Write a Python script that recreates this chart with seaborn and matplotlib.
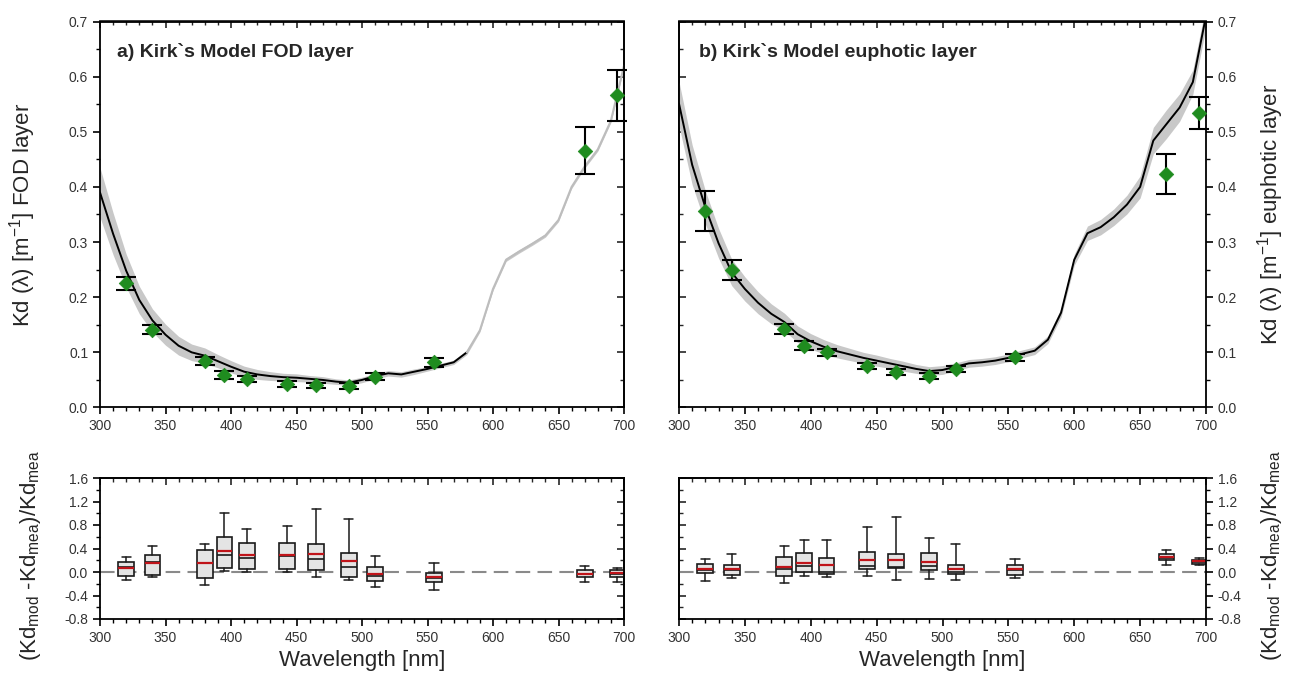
import numpy as np
import pandas as pd
import matplotlib
matplotlib.use("Agg")
import matplotlib.pyplot as plt
from matplotlib.ticker import MultipleLocator, FormatStrFormatter
import seaborn as sns

sns.set_style("ticks")
plt.rcParams['font.family'] = ['Liberation Sans', 'DejaVu Sans']
plt.rcParams['mathtext.default'] = 'regular'
plt.rcParams['axes.unicode_minus'] = False

# ---------------- data ----------------
wl_model = [300, 310, 320, 330, 340, 350, 360, 370, 380, 390, 400, 410, 420, 430, 440,
            450, 460, 470, 480, 490, 500, 510, 520, 530, 540, 550, 560, 570, 580, 590,
            600, 610, 620, 630, 640, 650, 660, 670, 680, 690, 700]
kd_a_model = [0.390, 0.315, 0.248, 0.195, 0.158, 0.132, 0.112, 0.100, 0.094, 0.084, 0.074,
              0.065, 0.060, 0.057, 0.055, 0.054, 0.052, 0.050, 0.047, 0.045, 0.050, 0.057,
              0.062, 0.060, 0.065, 0.070, 0.076, 0.082, 0.100, 0.140, 0.215, 0.268, 0.283,
              0.297, 0.312, 0.340, 0.400, 0.437, 0.468, 0.520, 0.620]
kd_a_half = [0.045, 0.038, 0.030, 0.025, 0.021, 0.019, 0.017, 0.015, 0.014, 0.012, 0.011,
             0.010, 0.009, 0.008, 0.007, 0.007, 0.006, 0.006, 0.005, 0.005, 0.005, 0.005,
             0.005, 0.005, 0.005, 0.004, 0.004, 0.004, 0.004, 0.003, 0.003, 0.003, 0.003,
             0.003, 0.003, 0.003, 0.003, 0.003, 0.003, 0.003, 0.003]
kd_b_model = [0.551, 0.440, 0.363, 0.298, 0.245, 0.215, 0.190, 0.170, 0.155, 0.133, 0.120,
              0.110, 0.102, 0.096, 0.090, 0.085, 0.080, 0.075, 0.070, 0.066, 0.068, 0.074,
              0.080, 0.082, 0.085, 0.090, 0.097, 0.103, 0.123, 0.172, 0.268, 0.316, 0.327,
              0.345, 0.368, 0.400, 0.484, 0.514, 0.544, 0.590, 0.710]
kd_b_half = [0.040, 0.036, 0.030, 0.027, 0.024, 0.022, 0.020, 0.018, 0.016, 0.015, 0.014,
             0.013, 0.012, 0.011, 0.010, 0.010, 0.009, 0.009, 0.008, 0.008, 0.008, 0.007,
             0.007, 0.007, 0.007, 0.007, 0.007, 0.007, 0.007, 0.008, 0.010, 0.013, 0.014,
             0.015, 0.017, 0.020, 0.024, 0.026, 0.025, 0.022, 0.020]

wl_mea = [320, 340, 380, 395, 412, 443, 465, 490, 510, 555, 670, 695]
kd_a_mea = [0.225, 0.141, 0.084, 0.059, 0.052, 0.043, 0.040, 0.039, 0.056, 0.082, 0.466, 0.566]
kd_a_err = [0.012, 0.008, 0.007, 0.007, 0.005, 0.005, 0.005, 0.005, 0.006, 0.008, 0.042, 0.046]
kd_b_mea = [0.356, 0.250, 0.143, 0.112, 0.100, 0.075, 0.064, 0.057, 0.070, 0.091, 0.424, 0.534]
kd_b_err = [0.036, 0.018, 0.009, 0.008, 0.006, 0.006, 0.005, 0.005, 0.005, 0.006, 0.036, 0.029]

# relative difference box statistics (per wavelength)
a_whislo = [-0.13, -0.085, -0.216, 0.01, 0.0, 0.0, -0.08, -0.13, -0.25, -0.31, -0.176, -0.165]
a_q1 = [-0.068, -0.05, -0.108, 0.07, 0.058, 0.058, 0.03, -0.085, -0.154, -0.17, -0.09, -0.079]
a_med = [0.09, 0.17, 0.15, 0.29, 0.234, 0.28, 0.217, 0.086, -0.068, -0.10, -0.04, -0.03]
a_mean = [0.06, 0.15, 0.16, 0.36, 0.29, 0.29, 0.30, 0.18, -0.04, -0.085, -0.034, -0.022]
a_q3 = [0.17, 0.29, 0.38, 0.60, 0.486, 0.486, 0.48, 0.33, 0.08, -0.01, 0.03, 0.034]
a_whishi = [0.26, 0.44, 0.48, 1.01, 0.73, 0.79, 1.08, 0.90, 0.28, 0.16, 0.10, 0.075]

b_whislo = [-0.147, -0.108, -0.19, -0.06, -0.09, -0.07, -0.142, -0.12, -0.13, -0.10, 0.125, 0.12]
b_q1 = [-0.017, -0.044, -0.07, 0.0, -0.03, 0.05, 0.063, 0.03, -0.03, -0.05, 0.20, 0.136]
b_med = [0.03, 0.03, 0.05, 0.097, 0.0, 0.107, 0.086, 0.11, 0.0, 0.03, 0.24, 0.17]
b_mean = [0.05, 0.046, 0.08, 0.154, 0.12, 0.198, 0.205, 0.171, 0.046, 0.046, 0.25, 0.18]
b_q3 = [0.142, 0.12, 0.262, 0.325, 0.245, 0.34, 0.308, 0.325, 0.125, 0.12, 0.308, 0.21]
b_whishi = [0.228, 0.308, 0.45, 0.54, 0.55, 0.76, 0.93, 0.577, 0.474, 0.228, 0.37, 0.23]

title_a = "a) Kirk`s Model FOD layer"
title_b = "b) Kirk`s Model euphotic layer"
ylab_a = r"Kd ($\lambda$) [m$^{-1}$] FOD layer"
ylab_b = r"Kd ($\lambda$) [m$^{-1}$] euphotic layer"
ylab_diff = r"(Kd$_{mod}$ -Kd$_{mea}$)/Kd$_{mea}$"
xlab = "Wavelength [nm]"

# ---------------- figure ----------------
W, H = 1289, 683
fig = plt.figure(figsize=(W / 100, H / 100), dpi=100)


def rect(x0, x1, ytop, ybot):
    return [x0 / W, 1 - ybot / H, (x1 - x0) / W, (ybot - ytop) / H]


ax_a = fig.add_axes(rect(100, 624, 21.5, 407.5))
ax_b = fig.add_axes(rect(679, 1206, 21.5, 407.5))
ax_c = fig.add_axes(rect(100, 624, 478, 619))
ax_d = fig.add_axes(rect(679, 1206, 478, 619))

TICKFS = 10
GREEN = '#1f8c1f'


def style(ax, ymaj, ymin, ylim, fmt, side):
    ax.set_xlim(300, 700)
    ax.set_ylim(*ylim)
    for s in ax.spines.values():
        s.set_linewidth(1.3)
        s.set_color('black')
    ax.xaxis.set_major_locator(MultipleLocator(50))
    ax.xaxis.set_minor_locator(MultipleLocator(10))
    ax.yaxis.set_major_locator(MultipleLocator(ymaj))
    ax.yaxis.set_minor_locator(MultipleLocator(ymin))
    ax.yaxis.set_major_formatter(FormatStrFormatter(fmt))
    if side == 'right':
        ax.yaxis.tick_right()
        ax.yaxis.set_label_position('right')
    ax.tick_params(which='major', direction='out', length=5, width=1.2,
                   labelsize=TICKFS, labelcolor='#333333', color='black')
    ax.tick_params(which='minor', direction='out', length=3, width=1.0, color='black')
    # mirrored inward ticks
    sx = ax.secondary_xaxis('top')
    sy = ax.secondary_yaxis('left' if side == 'right' else 'right')
    for sec in (sx, sy):
        axis = sec.xaxis if sec is sx else sec.yaxis
        if sec is sx:
            axis.set_major_locator(MultipleLocator(50))
            axis.set_minor_locator(MultipleLocator(10))
        else:
            axis.set_major_locator(MultipleLocator(ymaj))
            axis.set_minor_locator(MultipleLocator(ymin))
        sec.tick_params(which='major', direction='in', length=5, width=1.2,
                        labelleft=False, labelright=False, labeltop=False, labelbottom=False)
        sec.tick_params(which='minor', direction='in', length=3, width=1.0)
        for s in sec.spines.values():
            s.set_linewidth(1.3)


def top_panel(ax, kd_model, kd_half, kd_mea, kd_err, gray_after, title, ylabel, side):
    df = pd.DataFrame({'wl': wl_model, 'kd': kd_model, 'half': kd_half})
    df['lo'] = df['kd'] - df['half']
    df['hi'] = df['kd'] + df['half']
    ax.fill_between(df['wl'], df['lo'], df['hi'], color='#c8c8c8', lw=0, zorder=1)
    if gray_after is None:
        sns.lineplot(data=df, x='wl', y='kd', color='black', lw=1.4, ax=ax, zorder=2)
    else:
        sns.lineplot(data=df[df.wl <= gray_after], x='wl', y='kd', color='black', lw=1.4,
                     ax=ax, zorder=2)
        sns.lineplot(data=df[df.wl >= gray_after], x='wl', y='kd', color='#bdbdbd', lw=1.5,
                     ax=ax, zorder=2)
    ax.errorbar(wl_mea, kd_mea, yerr=kd_err, fmt='none', ecolor='black', elinewidth=1.5,
                capsize=7, capthick=1.5, zorder=3, clip_on=False)
    sns.scatterplot(x=wl_mea, y=kd_mea, marker='D', s=55, color=GREEN, edgecolor=GREEN,
                    linewidth=0.5, zorder=4, ax=ax)
    style(ax, 0.1, 0.05, (0, 0.7), '%.1f', side)
    ax.text(0.033 if side == 'left' else 0.038, 0.921, title, transform=ax.transAxes,
            fontsize=14, fontweight='bold', ha='left', va='center')
    ax.set_xlabel('')
    ax.set_ylabel(ylabel, fontsize=16)
    if side == 'left':
        ax.yaxis.set_label_coords(-0.118, 0.5)
    else:
        ax.yaxis.set_label_coords(1.093, 0.5)


top_panel(ax_a, kd_a_model, kd_a_half, kd_a_mea, kd_a_err, 580, title_a, ylab_a, 'left')
top_panel(ax_b, kd_b_model, kd_b_half, kd_b_mea, kd_b_err, None, title_b, ylab_b, 'right')


def bottom_panel(ax, lo, q1, med, mean, q3, hi, side):
    stats = [dict(whislo=l, q1=a, med=m, mean=mu, q3=b, whishi=h, fliers=[])
             for l, a, m, mu, b, h in zip(lo, q1, med, mean, q3, hi)]
    ax.axhline(0, color='#8a8a8a', ls=(0, (7, 3.5)), lw=1.5, zorder=1)
    ax.bxp(stats, positions=wl_mea, widths=12, capwidths=7, patch_artist=True,
           showmeans=True, meanline=True, showfliers=False, manage_ticks=False,
           boxprops=dict(facecolor='#e4e4e4', edgecolor='#1a1a1a', linewidth=1.2),
           whiskerprops=dict(color='#1a1a1a', linewidth=1.1),
           capprops=dict(color='#1a1a1a', linewidth=1.1),
           medianprops=dict(color='#1a1a1a', linewidth=1.2),
           meanprops=dict(color='#c0141a', linewidth=1.6, linestyle='-'),
           zorder=2)
    style(ax, 0.4, 0.2, (-0.8, 1.6), '%.1f', side)
    ax.set_xlabel(xlab, fontsize=16)
    ax.xaxis.set_label_coords(0.5, -0.22)
    ax.set_ylabel(ylab_diff, fontsize=16)
    if side == 'left':
        ax.yaxis.set_label_coords(-0.108, 0.45)
    else:
        ax.yaxis.set_label_coords(1.1, 0.45)


bottom_panel(ax_c, a_whislo, a_q1, a_med, a_mean, a_q3, a_whishi, 'left')
bottom_panel(ax_d, b_whislo, b_q1, b_med, b_mean, b_q3, b_whishi, 'right')

fig.savefig('out.png', dpi=100)
